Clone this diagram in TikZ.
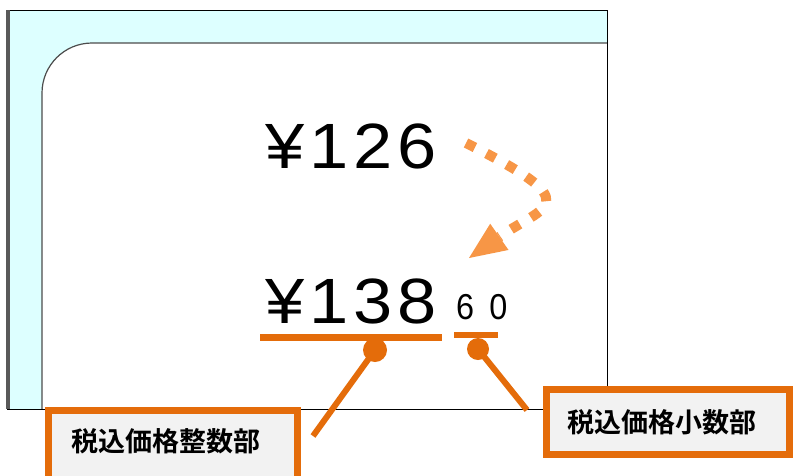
\documentclass[tikz,border=0pt]{standalone}
\usepackage{fontspec}
\newfontfamily\jpbold{Noto Sans CJK JP Bold}
\newfontfamily\numfont{Liberation Sans}[FakeStretch=1.1,LetterSpace=8]
\newfontfamily\smallnum{Liberation Sans}[FakeStretch=0.9,LetterSpace=42]
\usetikzlibrary{arrows.meta}
\definecolor{frameC}{HTML}{DDFFFF}
\definecolor{orangeD}{HTML}{E46C0A}
\definecolor{orangeL}{HTML}{F79646}
\definecolor{boxfill}{HTML}{F2F2F2}
\tikzset{
  leader/.style={draw=orangeD, line width=6pt},
  uline/.style={draw=orangeD, line width=7pt},
  dotC/.style={circle, fill=orangeD, inner sep=0pt},
  labelbox/.style={draw=orangeD, line width=7pt, fill=boxfill},
  labeltext/.style={font=\jpbold\fontsize{27}{27}\selectfont, inner sep=0pt}
}
\begin{document}
\begin{tikzpicture}[x=1pt,y=-1pt]
\useasboundingbox (0,0) rectangle (795,475);
% outer frame
\fill[frameC] (7,10) rectangle (607,409);
\fill[white] (42,409) -- (42,93) arc[start angle=180,end angle=270,radius=50] -- (607,43) -- (607,409) -- cycle;
\draw[line width=1.2pt, black!70] (42,409) -- (42,93) arc[start angle=180,end angle=270,radius=50] -- (607,43);
\draw[line width=1pt] (7,409) -- (7,10) -- (607,10) -- (607,409) -- cycle;
\fill[black!65] (6,10) rectangle (10,409);
% prices
\node[anchor=base west, inner sep=0pt, font=\numfont\fontsize{64}{64}\selectfont] (p1) at (265,168) {¥126};
\node[anchor=base west, inner sep=0pt, font=\numfont\fontsize{64}{64}\selectfont] (p2) at (265,323) {¥138};
\node[anchor=base west, inner sep=0pt, font=\smallnum\fontsize{36}{36}\selectfont] (p3) at (456,319) {60};
% dotted curved arrow
\coordinate (a0) at (466,143);
\coordinate (a1) at (469,258);
\draw[orangeL, line width=10pt, dash pattern=on 10pt off 13pt,
  -{Triangle[length=37pt,width=32pt,line width=0pt]}]
  (a0) .. controls (590,205) and (545,205) .. (a1);
% underlines
\coordinate (u1a) at (260,337); \coordinate (u1b) at (442,337);
\coordinate (u2a) at (454,334.5); \coordinate (u2b) at (498,334.5);
\draw[uline] (u1a) -- (u1b);
\draw[uline, line width=6pt] (u2a) -- (u2b);
% dots
\node[dotC, minimum size=24pt] (d1) at (375,350) {};
\node[dotC, minimum size=22pt] (d2) at (478,349) {};
% leader ends
\coordinate (e1) at (313,436);
\coordinate (e2) at (527,410);
\draw[leader] (d1.center) -- (e1);
\draw[leader] (d2.center) -- (e2);
% label boxes
\draw[labelbox] (48.5,410.5) rectangle (297.5,490);
\node[labeltext] (b1) at (166,441) {税込価格整数部};
\draw[labelbox] (546.5,389.5) rectangle (789.5,454.5);
\node[labeltext] (b2) at (662,422) {税込価格小数部};
\end{tikzpicture}
\end{document}
